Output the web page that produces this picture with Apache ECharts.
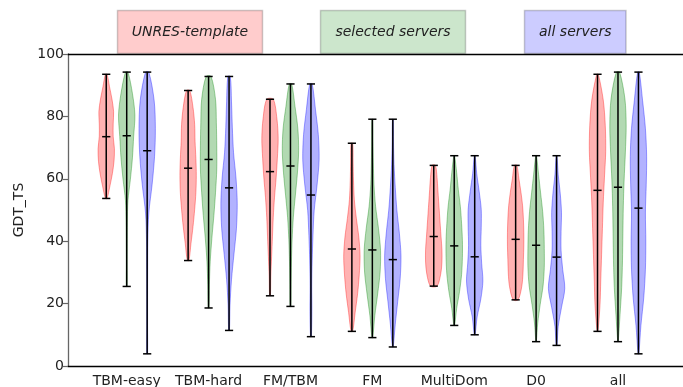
<!DOCTYPE html>
<html>
<head>
<meta charset="utf-8">
<script src="https://cdn.jsdelivr.net/npm/echarts@6/dist/echarts.min.js"></script>
<style>
  html, body { margin: 0; padding: 0; background: #fff; }
  #chart { width: 683px; height: 387px; }
</style>
</head>
<body>
<div id="chart"></div>
<script>
const categories = ["TBM-easy", "TBM-hard", "FM/TBM", "FM", "MultiDom", "D0", "all"];
const yTicks = [0, 20, 40, 60, 80, 100];

// UNRES-template (red)
const unresMin = [53.7, 33.8, 22.5, 11.1, 25.6, 21.2, 11.1];
const unresMedian = [73.5, 63.4, 62.3, 37.5, 41.5, 40.6, 56.3];
const unresMax = [93.5, 88.3, 85.5, 71.4, 64.3, 64.3, 93.5];
// relative violin widths, from min (first) to max (last)
const unresShape = [
  [0.1, 0.45, 0.75, 0.95, 1.0, 0.85, 0.85, 0.9, 0.7, 0.4, 0.1],
  [0.1, 0.35, 0.6, 0.8, 0.95, 1.0, 0.95, 0.85, 0.8, 0.6, 0.2],
  [0.05, 0.1, 0.2, 0.3, 0.4, 0.55, 0.75, 0.9, 1.0, 0.85, 0.4],
  [0.1, 0.4, 0.7, 0.9, 1.0, 0.85, 0.55, 0.3, 0.2, 0.15, 0.1],
  [0.4, 0.85, 1.0, 1.0, 0.9, 0.8, 0.7, 0.6, 0.5, 0.4, 0.2],
  [0.3, 0.75, 0.9, 0.95, 1.0, 1.0, 0.95, 0.85, 0.65, 0.4, 0.15],
  [0.05, 0.3, 0.4, 0.5, 0.6, 0.7, 0.85, 1.0, 0.95, 0.7, 0.1],
];

// selected servers (green)
const selectedMin = [25.5, 18.6, 19.1, 9.1, 13.0, 7.8, 7.8];
const selectedMedian = [73.8, 66.2, 64.1, 37.2, 38.5, 38.7, 57.3];
const selectedMax = [94.2, 92.8, 90.4, 79.1, 67.4, 67.4, 94.2];
const selectedShape = [
  [0.05, 0.05, 0.06, 0.08, 0.15, 0.45, 0.7, 0.85, 1.0, 0.7, 0.15],
  [0.05, 0.1, 0.2, 0.4, 0.65, 0.85, 1.0, 1.0, 0.95, 0.85, 0.3],
  [0.05, 0.08, 0.12, 0.2, 0.35, 0.6, 0.85, 1.0, 0.9, 0.55, 0.15],
  [0.05, 0.3, 0.65, 0.95, 1.0, 0.75, 0.4, 0.2, 0.12, 0.08, 0.05],
  [0.05, 0.3, 0.65, 0.9, 1.0, 1.0, 0.9, 0.75, 0.5, 0.3, 0.05],
  [0.03, 0.2, 0.5, 0.85, 1.0, 1.0, 0.95, 0.8, 0.55, 0.3, 0.05],
  [0.03, 0.25, 0.45, 0.55, 0.6, 0.65, 0.75, 0.9, 1.0, 0.85, 0.2],
];

// all servers (blue)
const allMin = [3.9, 11.4, 9.4, 6.1, 10.0, 6.6, 3.9];
const allMedian = [69.0, 57.1, 54.8, 34.1, 35.0, 34.9, 50.6];
const allMax = [94.2, 92.8, 90.4, 79.1, 67.4, 67.4, 94.2];
const allShape = [
  [0.05, 0.05, 0.05, 0.06, 0.08, 0.2, 0.6, 0.9, 1.0, 0.85, 0.2],
  [0.05, 0.12, 0.3, 0.6, 0.9, 1.0, 0.85, 0.55, 0.4, 0.3, 0.15],
  [0.05, 0.12, 0.1, 0.15, 0.25, 0.4, 0.75, 1.0, 0.9, 0.55, 0.15],
  [0.05, 0.3, 0.6, 0.9, 1.0, 0.8, 0.5, 0.3, 0.15, 0.08, 0.05],
  [0.05, 0.3, 0.75, 1.0, 0.85, 0.75, 0.8, 0.8, 0.55, 0.25, 0.05],
  [0.05, 0.2, 0.6, 1.0, 0.75, 0.55, 0.55, 0.6, 0.45, 0.2, 0.05],
  [0.05, 0.3, 0.65, 0.85, 0.9, 0.85, 0.95, 1.0, 0.85, 0.5, 0.1],
];

const HALF = 0.1; // max half width of a violin (x units)
const CAP = 0.05; // half length of min/max/median bars

function violinSeries(name, offset, mins, medians, maxs, shapes, color) {
  return {
    type: "custom",
    name,
    xAxisIndex: 0,
    data: categories.map((c, i) => [i + 1 + offset, mins[i], medians[i], maxs[i]]),
    encode: { x: 0, y: [1, 2, 3] },
    renderItem(params, api) {
      const x = api.value(0);
      const lo = api.value(1);
      const mid = api.value(2);
      const hi = api.value(3);
      const shape = shapes[params.dataIndex];
      const n = shape.length - 1;
      const right = [];
      const left = [];
      shape.forEach((w, k) => {
        const y = lo + ((hi - lo) * k) / n;
        right.push(api.coord([x + w * HALF, y]));
        left.unshift(api.coord([x - w * HALF, y]));
      });
      const bar = (y) => {
        const a = api.coord([x - CAP, y]);
        const b = api.coord([x + CAP, y]);
        return {
          type: "line",
          z2: 10,
          shape: { x1: a[0], y1: a[1], x2: b[0], y2: b[1] },
          style: { stroke: "#000", lineWidth: 1.5 },
        };
      };
      const top = api.coord([x, hi]);
      const bottom = api.coord([x, lo]);
      return {
        type: "group",
        children: [
          {
            type: "polygon",
            shape: { points: right.concat(left), smooth: 0.3 },
            style: { fill: color.replace("A", "0.3"), stroke: color.replace("A", "0.35"), lineWidth: 1 },
          },
          {
            type: "line",
            z2: 10,
            shape: { x1: top[0], y1: top[1], x2: bottom[0], y2: bottom[1] },
            style: { stroke: "#000", lineWidth: 1.5 },
          },
          bar(lo),
          bar(hi),
          bar(mid),
        ],
      };
    },
  };
}

function labelBox(x, y, w, h, text, fill) {
  return {
    type: "group",
    z: 100,
    children: [
      {
        type: "rect",
        shape: { x, y, width: w, height: h },
        style: { fill, stroke: "rgba(0,0,0,0.2)", lineWidth: 1.5 },
      },
      {
        type: "text",
        style: {
          x: x + w / 2,
          y: y + h / 2,
          text,
          align: "center",
          verticalAlign: "middle",
          font: "italic 14px 'DejaVu Sans'",
          fill: "#222",
        },
      },
    ],
  };
}

const X_MIN = 0.283;
const X_MAX = 7.794;

const option = {
  backgroundColor: "#fff",
  animation: false,
  textStyle: { fontFamily: "DejaVu Sans" },
  grid: { left: 68, right: 0, top: 54, bottom: 21, containLabel: false, outerBoundsMode: "none" },
  xAxis: [
    {
      type: "value",
      min: X_MIN,
      max: X_MAX,
      axisLine: { lineStyle: { color: "#000", width: 1.3 } },
      axisTick: { show: false },
      splitLine: { show: false },
      axisLabel: {
        customValues: categories.map((c, i) => i + 1),
        formatter: (v) => categories[Math.round(v) - 1],
        fontSize: 14,
        color: "#222",
        margin: 8,
      },
    },
    {
      type: "value",
      position: "top",
      min: X_MIN,
      max: X_MAX,
      axisLine: { show: true, lineStyle: { color: "#000", width: 1.3 } },
      axisTick: { show: false },
      axisLabel: { show: false },
      splitLine: { show: false },
    },
  ],
  yAxis: {
    type: "value",
    min: yTicks[0],
    max: yTicks[yTicks.length - 1],
    interval: 20,
    name: "GDT_TS",
    nameLocation: "middle",
    nameGap: 42,
    nameTextStyle: { fontSize: 14, color: "#222" },
    axisLine: { show: true, lineStyle: { color: "#666", width: 1.3 } },
    axisTick: { show: true, length: 5, lineStyle: { color: "#666", width: 1.2 } },
    axisLabel: { fontSize: 14, color: "#222", margin: 4 },
    splitLine: { show: false },
  },
  graphic: [
    labelBox(117.5, 10.5, 145, 43, "UNRES-template", "rgba(255,0,0,0.2)"),
    labelBox(320.5, 10.5, 145, 43, "selected servers", "rgba(0,128,0,0.2)"),
    labelBox(524.5, 10.5, 101.5, 43, "all servers", "rgba(0,0,255,0.2)"),
  ],
  series: [
    violinSeries("UNRES-template", -0.25, unresMin, unresMedian, unresMax, unresShape, "rgba(255,0,0,A)"),
    violinSeries("selected servers", 0, selectedMin, selectedMedian, selectedMax, selectedShape, "rgba(0,128,0,A)"),
    violinSeries("all servers", 0.25, allMin, allMedian, allMax, allShape, "rgba(0,0,255,A)"),
  ],
};

const chart = echarts.init(document.getElementById("chart"));
chart.setOption(option);
</script>
</body>
</html>
